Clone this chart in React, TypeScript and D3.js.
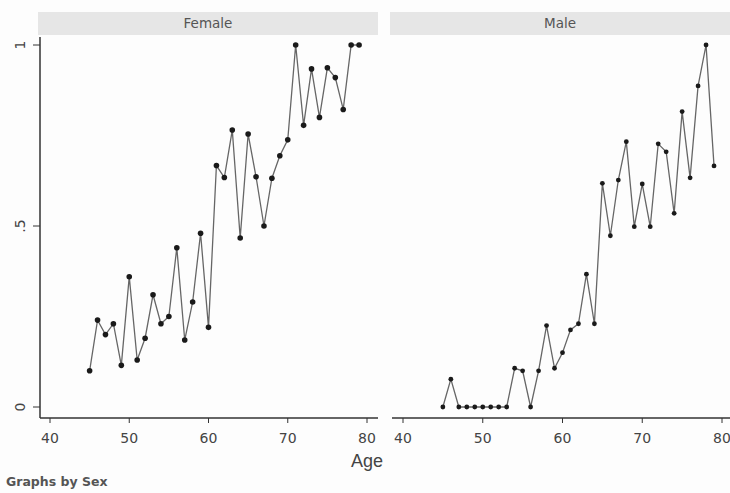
import React from 'react';
import * as d3 from 'd3';

// Data
const ages = d3.range(45, 80);
const female = [0.1, 0.24, 0.2, 0.23, 0.115, 0.36, 0.13, 0.19, 0.31, 0.23, 0.25, 0.44, 0.185, 0.29, 0.48, 0.22,
  0.667, 0.634, 0.765, 0.467, 0.754, 0.636, 0.5, 0.632, 0.694, 0.738, 1, 0.778, 0.934, 0.8, 0.937, 0.91, 0.822, 1, 1];
const male = [0, 0.077, 0, 0, 0, 0, 0, 0, 0, 0.107, 0.1, 0, 0.1, 0.225, 0.107, 0.15, 0.213, 0.23, 0.367, 0.23,
  0.618, 0.473, 0.627, 0.733, 0.498, 0.616, 0.498, 0.727, 0.705, 0.535, 0.816, 0.633, 0.887, 1, 0.666];
const xTicks = [40, 50, 60, 70, 80];
const yTicks = [0, 0.5, 1];
const yTickLabels = ['0', '.5', '1'];
const panels = [
  { name: 'Female', values: female, left: 40, right: 378, x40: 50, x80: 367, stripL: 38, stripR: 378, r: 2.8, showY: true },
  { name: 'Male', values: male, left: 392, right: 730, x40: 403, x80: 722, stripL: 390, stripR: 730, r: 2.4, showY: false },
];

const font = "'DejaVu Sans', Verdana, sans-serif";

function Panel({ p }: { p: typeof panels[0] }) {
  const x = d3.scaleLinear().domain([40, 80]).range([p.x40, p.x80]);
  const y = d3.scaleLinear().domain([0, 1]).range([407, 45]);
  const line = d3.line<number>().x((d, i) => x(ages[i])).y(d => y(d));
  return (
    <g>
      <rect x={p.stripL} y={12} width={p.stripR - p.stripL} height={23} fill="#e6e6e6" />
      <text x={(p.stripL + p.stripR) / 2} y={28} textAnchor="middle" fontSize={13.5} fill="#555" fontFamily={font}>{p.name}</text>
      <line x1={p.left} x2={p.right} y1={418} y2={418} stroke="#333" strokeWidth={1.5} />
      {xTicks.map(t => (
        <g key={t}>
          <line x1={x(t)} x2={x(t)} y1={418} y2={423} stroke="#333" />
          <text x={x(t)} y={443} textAnchor="middle" fontSize={14} fill="#444" fontFamily={font}>{t}</text>
        </g>
      ))}
      {p.showY && (
        <g>
          <line x1={40} x2={40} y1={37} y2={418} stroke="#333" strokeWidth={1.5} />
          {yTicks.map((t, i) => (
            <g key={t}>
              <line x1={33} x2={40} y1={y(t)} y2={y(t)} stroke="#333" />
              <text transform={`translate(25,${y(t)}) rotate(-90)`} textAnchor="middle" fontSize={14} fill="#444" fontFamily={font}>{yTickLabels[i]}</text>
            </g>
          ))}
        </g>
      )}
      <path d={line(p.values) || ''} fill="none" stroke="#666" strokeWidth={1.3} />
      {p.values.map((v, i) => (
        <circle key={i} cx={x(ages[i])} cy={y(v)} r={p.r} fill="#1a1a1a" />
      ))}
    </g>
  );
}

export default function App() {
  return (
    <svg width={730} height={493} style={{ position: 'absolute', left: 0, top: 0, background: '#fdfdfd' }}>
      {panels.map(p => <Panel key={p.name} p={p} />)}
      <text x={367} y={467} textAnchor="middle" fontSize={18} fill="#444" fontFamily="Arial, 'Liberation Sans', sans-serif">Age</text>
      <text x={6} y={486} fontSize={12.5} fontWeight="bold" fill="#555" fontFamily={font}>Graphs by Sex</text>
    </svg>
  );
}
